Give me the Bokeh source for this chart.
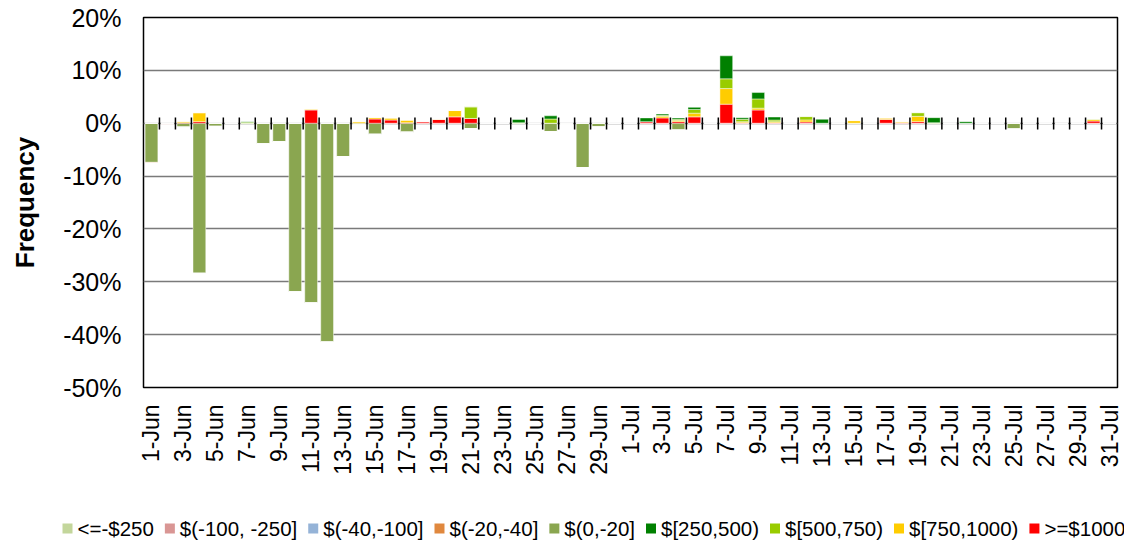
import math
from bokeh.plotting import figure
from bokeh.layouts import column
from bokeh.models import (ColumnDataSource, FixedTicker, Range1d, CustomJSTickFormatter)
from bokeh.core.properties import value
from bokeh.embed import file_html
from bokeh.resources import INLINE

dates = [f"{d}-Jun" for d in range(1, 31)] + [f"{d}-Jul" for d in range(1, 32)]

# Values in percent, one per day (1-Jun .. 31-Jul)
neg_0_20 = [-7.4, 0, -0.75, -28.4, -0.6, 0, 0, -3.9, -3.5, -31.9,
            -34.0, -41.4, -6.3, -0.3, -2.1, 0, -1.7, 0, 0, 0,
            -1.0, 0, 0, 0, -0.1, -1.6, -0.2, -8.4, -0.7, 0,
            0, 0, 0, -1.3, 0, 0, 0, 0, 0, 0,
            0, 0, 0, 0, 0, 0, 0, 0, 0, 0,
            -0.1, 0, 0, 0, -1.1, 0, 0, -0.1, 0, 0, 0]
neg_20_40 = [-0.15, -0.2] + [0] * 59
neg_40_100 = [0] * 61
neg_100_250 = [0, -0.1] + [0] * 59
le_neg250 = [0] * 61

ge_1000 = [0, 0, 0.1, 0.3, 0, 0, 0, 0, 0, 0,
           2.5, 0, 0, 0, 0.8, 0.6, 0.1, 0.3, 0.7, 1.2,
           0.9, 0, 0, 0, 0, 0, 0, 0, 0, 0,
           0, 0.3, 1.0, 0.3, 1.2, 0, 3.6, 0.1, 2.5, 0.1,
           0, 0.25, 0, 0, 0, 0, 0.7, 0.1, 0.3, 0,
           0, 0, 0, 0, 0, 0, 0, 0, 0, 0.4, 0]
p750_1000 = [0, 0, 0.25, 1.7, 0, 0, 0, 0, 0, 0,
             0.2, 0, 0, 0.3, 0.3, 0.4, 0.5, 0, 0.1, 1.2,
             0, 0, 0, 0, 0, 0, 0, 0, 0, 0,
             0, 0, 0.3, 0.2, 0.7, 0, 2.95, 0.2, 0.35, 0.2,
             0, 0.38, 0, 0, 0.5, 0, 0.3, 0.2, 1.0, 0,
             0, 0, 0, 0, 0, 0, 0, 0, 0, 0.3, 0]
p500_750 = [0, 0, 0, 0, 0, 0, 0.2, 0, 0, 0,
            0, 0, 0, 0, 0, 0, 0, 0, 0, 0,
            2.2, 0, 0, 0.1, 0, 0.8, 0, 0, 0, 0,
            0, 0, 0.2, 0.25, 0.7, 0, 1.85, 0.45, 1.75, 0.3,
            0, 0.63, 0, 0, 0, 0, 0, 0, 0.7, 0.1,
            0, 0, 0, 0, 0, 0, 0, 0, 0, 0.1, 0]
p250_500 = [0, 0, 0, 0, 0, 0, 0.1, 0, 0, 0,
            0, 0, 0, 0, 0, 0, 0, 0, 0, 0,
            0, 0, 0, 0.6, 0, 0.6, 0, 0, 0, 0,
            0, 0.7, 0.25, 0.25, 0.4, 0, 4.35, 0.3, 1.2, 0.57,
            0, 0, 0.75, 0, 0, 0, 0, 0, 0, 0.95,
            0, 0.3, 0, 0, 0, 0, 0, 0, 0, 0, 0]

labels = ["<=-$250", "$(-100, -250]", "$(-40,-100]", "$(-20,-40]", "$(0,-20]",
          "$[250,500)", "$[500,750)", "$[750,1000)", ">=$1000"]
label_colors = ["#C3D69B", "#D99694", "#95B3D7", "#E0883E", "#8AA650",
                "#008000", "#99CC00", "#FFCC00", "#FF0000"]

x = [i + 0.5 for i in range(len(dates))]
src = ColumnDataSource(dict(x=x, neg_0_20=neg_0_20, neg_20_40=neg_20_40,
                            neg_40_100=neg_40_100, neg_100_250=neg_100_250,
                            le_neg250=le_neg250, ge_1000=ge_1000, p750_1000=p750_1000,
                            p500_750=p500_750, p250_500=p250_500))

FONT = "Liberation Sans"
W = 1124
p = figure(width=W, height=480, output_backend="svg", toolbar_location=None,
           x_range=Range1d(0, len(dates)), y_range=Range1d(-50, 20),
           min_border_left=143, min_border_right=7, min_border_top=17, min_border_bottom=93)
p.background_fill_color = "white"
p.border_fill_color = "white"
p.outline_line_color = "black"
p.outline_line_width = 1.5

neg_keys = ["neg_0_20", "neg_20_40", "neg_40_100", "neg_100_250", "le_neg250"]
neg_cols = ["#8AA650", "#E0883E", "#95B3D7", "#D99694", "#C3D69B"]
pos_keys = ["ge_1000", "p750_1000", "p500_750", "p250_500"]
pos_cols = ["#FF0000", "#FFCC00", "#99CC00", "#008000"]

neg_r = p.vbar_stack(neg_keys, x="x", width=0.8, color=neg_cols, source=src)
pos_r = p.vbar_stack(pos_keys, x="x", width=0.8, color=pos_cols, source=src)
for r, c in zip(neg_r + pos_r, neg_cols + pos_cols):
    r.glyph.fill_color = c
    r.glyph.line_color = "white"
    r.glyph.line_alpha = 0.45
    r.glyph.line_width = 1

# category boundary tick marks crossing the zero line
bx = list(range(1, len(dates)))
p.segment(x0=bx, x1=bx, y0=[-1.2] * len(bx), y1=[1.1] * len(bx),
          line_color="black", line_width=1.5)

p.xgrid.visible = False
p.ygrid.ticker = FixedTicker(ticks=[-50, -40, -30, -20, -10, 0, 10, 20])
p.ygrid.grid_line_color = "#7a7a7a"
p.ygrid.grid_line_width = 1.5
p.ygrid.level = "underlay"

ya = p.yaxis[0]
ya.ticker = FixedTicker(ticks=[-50, -40, -30, -20, -10, 0, 10, 20])
ya.formatter = CustomJSTickFormatter(code="return tick + '%';")
ya.major_tick_out = 0
ya.major_tick_in = 0
ya.minor_tick_out = 0
ya.minor_tick_in = 0
ya.axis_line_color = None
ya.major_label_text_font = FONT
ya.major_label_text_font_size = "25px"
ya.major_label_text_color = "black"
ya.major_label_standoff = 22
ya.axis_label = "Frequency"
ya.axis_label_text_font = FONT
ya.axis_label_text_font_size = "26px"
ya.axis_label_text_font_style = "bold"
ya.axis_label_text_color = "black"
ya.axis_label_standoff = 20

xa = p.xaxis[0]
xa.ticker = FixedTicker(ticks=[i + 0.5 for i in range(0, len(dates), 2)])
xa.formatter = CustomJSTickFormatter(args=dict(labels=dates),
                                     code="return labels[Math.floor(tick)] || '';")
xa.major_label_orientation = math.pi / 2
xa.major_tick_out = 0
xa.major_tick_in = 0
xa.minor_tick_out = 0
xa.minor_tick_in = 0
xa.axis_line_color = None
xa.major_label_text_font = FONT
xa.major_label_text_font_size = "23px"
xa.major_label_text_color = "black"
xa.major_label_standoff = 17

# ---- legend strip below the chart (screen-pixel coordinates) ----
LH = 65
lg = figure(width=W, height=LH, output_backend="svg", toolbar_location=None,
            x_range=Range1d(0, W), y_range=Range1d(0, LH),
            x_axis_location=None, y_axis_location=None,
            min_border_left=0, min_border_right=0, min_border_top=0, min_border_bottom=0)
for fig in (p, lg):
    if "frame_align" in fig.properties():
        fig.frame_align = False
lg.outline_line_color = None
lg.xgrid.visible = False
lg.ygrid.visible = False
lg.background_fill_color = "white"
lg.border_fill_color = "white"

# Arial / Liberation Sans advance widths (em) for laying out the legend row
CW = {"<": 0.584, "=": 0.584, ">": 0.584, "-": 0.333, "$": 0.556, "(": 0.333, ")": 0.333,
      "[": 0.278, "]": 0.278, ",": 0.278, " ": 0.278}
LEG_FS = 20.5
SW, GAP, ITEM_GAP, START = 10, 5, 11, 62


def text_w(s):
    return sum(CW.get(ch, 0.556) for ch in s) * LEG_FS


sx, tx = [], []
cur = START
for lab in labels:
    sx.append(cur + SW / 2)
    tx.append(cur + SW + GAP)
    cur += SW + GAP + text_w(lab) + ITEM_GAP
row_y = LH - 48
lg.scatter(x=sx, y=[row_y] * len(sx), marker="square", size=SW,
           fill_color=label_colors, line_color=None)
lg.text(x=tx, y=[row_y] * len(tx), text=labels, text_font=value(FONT),
        text_font_size=f"{LEG_FS}px", text_baseline="middle", text_align="left",
        text_color="black")

layout = column(p, lg, spacing=0)
open("out.html", "w").write(file_html(layout, INLINE))
